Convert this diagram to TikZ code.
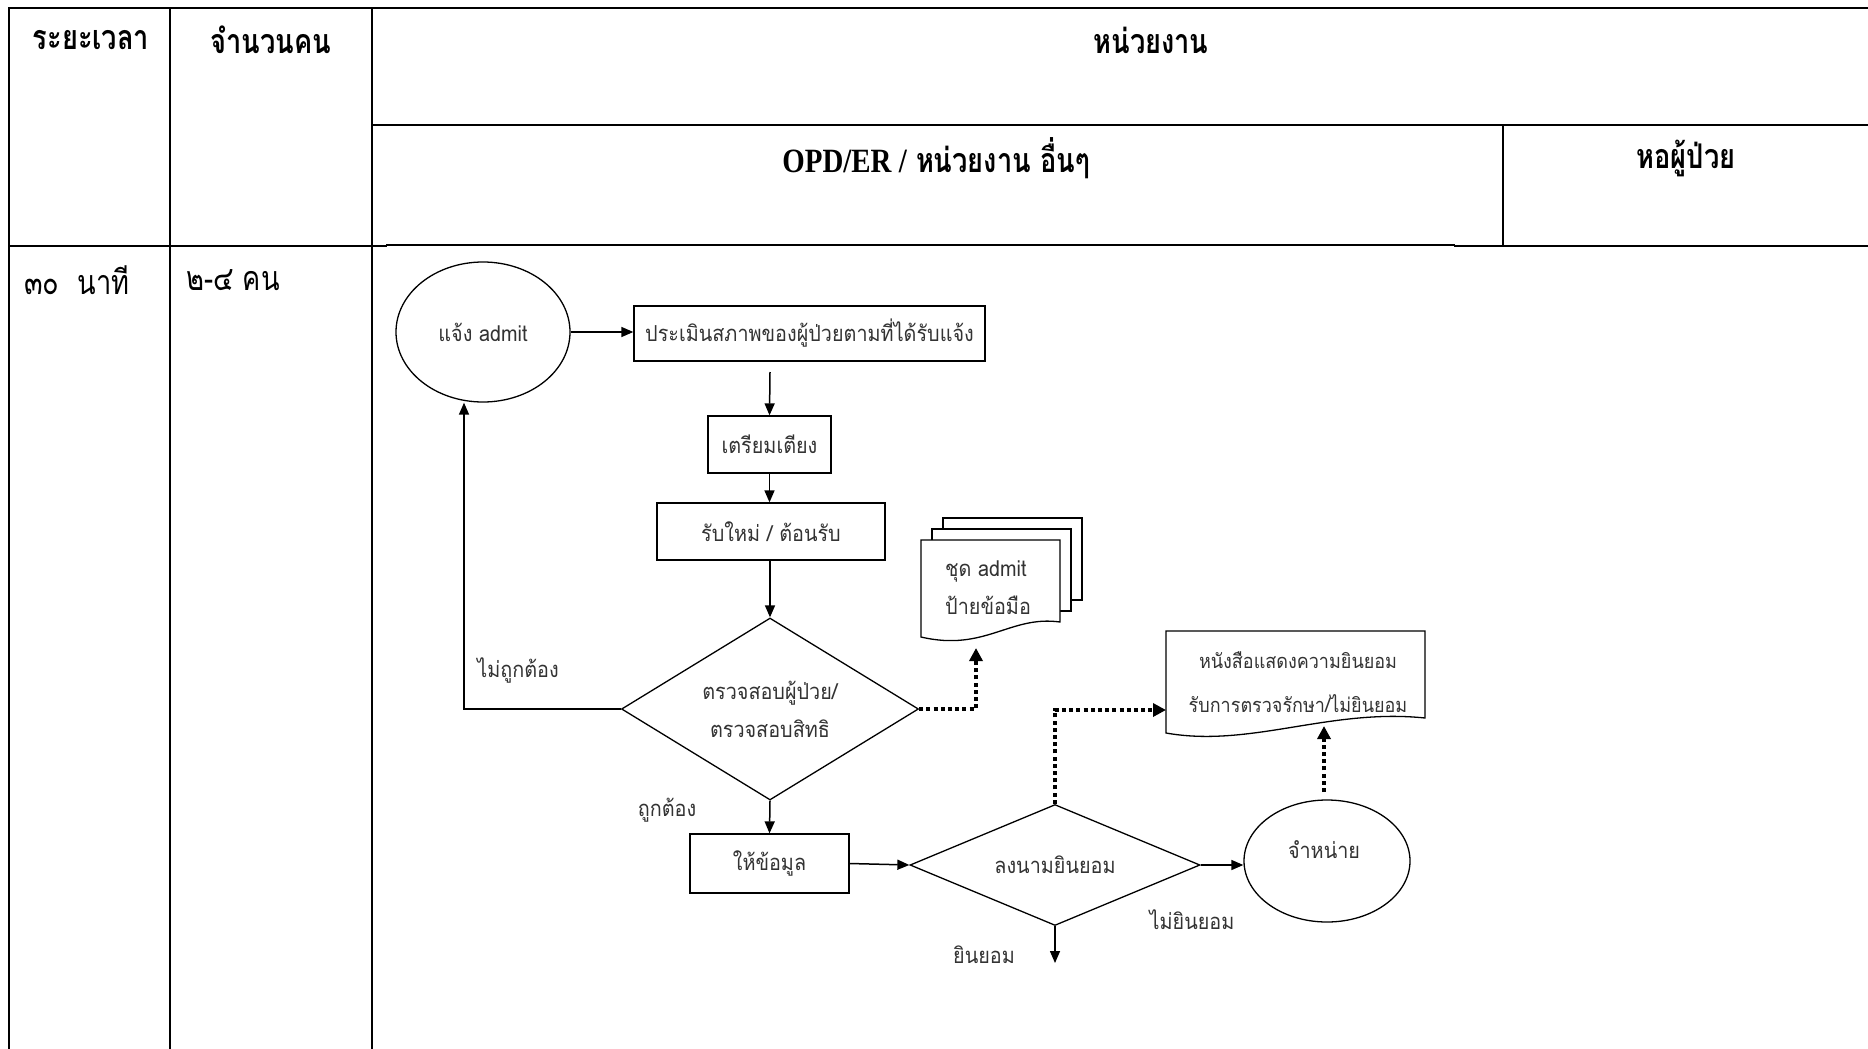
\documentclass[tikz,border=0pt]{standalone}
\usepackage{fontspec}
\usetikzlibrary{arrows.meta,shapes.geometric,calc}
\newfontfamily\fcfont[Script=Thai,FakeStretch=0.9]{Loma}
\newfontfamily\hdfont[Script=Thai,FakeStretch=0.8]{Loma}
\newfontfamily\hdlatin[FakeStretch=0.85]{Liberation Serif}

\tikzset{
  grid/.style={line width=2.8pt, line cap=rect},
  gridthin/.style={line width=1.8pt},
  hd/.style={font=\hdfont\bfseries\fontsize{34}{40}\selectfont, inner sep=0pt},
  bd/.style={font=\hdfont\fontsize{34}{40}\selectfont, inner sep=0pt},
  fc/.style={font=\fcfont\fontsize{22}{38}\selectfont, text=black!80, inner sep=0pt},
  proc/.style={draw, line width=1.3pt, rectangle, fc},
  decision/.style={draw, line width=1.3pt, diamond, fc, align=center, inner sep=0pt},
  term/.style={draw, line width=1.3pt, ellipse, fc, inner sep=0pt},
  page/.style={draw, line width=1.3pt, fill=white},
  arr/.style={line width=1.5pt, -{Triangle[length=12pt,width=10pt]}},
  dotarr/.style={line width=3.6pt, dash pattern=on 4pt off 3.2pt, -{Triangle[length=13pt,width=13pt]}}
}

\begin{document}
\begin{tikzpicture}[x=1pt, y=-1pt]
\useasboundingbox[fill=white] (0,0) rectangle (1868,1049);

% table rules
\draw[grid] (9,8) -- (1868,8);
\draw[grid] (9,8) -- (9,1049);
\draw[grid] (170,8) -- (170,1049);
\draw[grid] (372,8) -- (372,1049);
\draw[grid] (372,125) -- (1868,125);
\draw[gridthin] (1503,125) -- (1503,246);
\draw[grid] (9,246) -- (386,246);
\draw[gridthin] (386,245) -- (1455,245);
\draw[grid] (1455,246) -- (1868,246);

% headings
\node[hd] (hTime) at (91,40) {ระยะเวลา};
\node[hd] (hStaff) at (271,40) {จำนวนคน};
\node[hd] (hUnit) at (1151,40) {หน่วยงาน};
\node[hd] (hOpd) at (936,158) {{\hdlatin\bfseries OPD/ER /} หน่วยงาน อื่นๆ};
\node[hd] (hWard) at (1686,158) {หอผู้ป่วย};
\node[bd, anchor=west] (tTime) at (24,280) {๓๐\ \ นาที};
\node[bd, anchor=west] (tStaff) at (186,280) {๒-๔ คน};

% flow
\node[term, minimum width=174pt, minimum height=140pt] (adm) at (483,332) {แจ้ง admit};
\node[proc, minimum width=351pt, minimum height=55pt] (eval) at (809.5,333.5) {ประเมินสภาพของผู้ป่วยตามที่ได้รับแจ้ง};
\node[proc, minimum width=123pt, minimum height=57pt] (bed) at (769.5,444.5) {เตรียมเตียง};
\node[proc, minimum width=228pt, minimum height=57pt] (recv) at (771,531.5) {รับใหม่ / ต้อนรับ};
\node[decision, shape aspect=1.63, minimum width=297pt, minimum height=182pt] (chk) at (770,709) {ตรวจสอบผู้ป่วย/\\ตรวจสอบสิทธิ};
\node[proc, minimum width=159pt, minimum height=59pt] (info) at (769.5,863.5) {ให้ข้อมูล};
\node[decision, shape aspect=2.4, minimum width=290pt, minimum height=121pt] (sign) at (1055,865) {ลงนามยินยอม};
\node[term, minimum width=166pt, minimum height=122pt] (disc) at (1327,861) {};
\node[fc] (discT) at (1324,850) {จำหน่าย};

% stacked documents: admission kit
\draw[page] (943,518) rectangle (1082,600);
\draw[page] (932,529) rectangle (1071,611);
\draw[page] (921,540) -- (1060,540) -- (1060,622)
  .. controls (1010,615) and (985,652) .. (921,637) -- cycle;
\node[fc, align=left, anchor=north west] (kit) at (945,561) {ชุด admit\\ป้ายข้อมือ};

% consent form document
\draw[page] (1166,631) -- (1425,631) -- (1425,718)
  .. controls (1330,708) and (1250,748) .. (1166,733) -- cycle;
\node[fc, align=center, font=\fcfont\fontsize{20}{44}\selectfont] (consent) at (1298,682) {หนังสือแสดงความยินยอม\\รับการตรวจรักษา/ไม่ยินยอม};

\coordinate (evalOut) at (770,372);
\coordinate (kitIn) at (976,648);
\coordinate (consIn) at (1166,710);
\coordinate (consBot) at (1324,726);
\coordinate (discTop) at (1324,792);
\coordinate (signOut) at (1055,963);

% connectors
\draw[arr] (adm.east) -- (adm.east -| eval.west);
\draw[arr] (evalOut) -- (bed.north);
\draw[arr] (bed.south) -- (bed.south |- recv.north);
\draw[arr] (chk.north |- recv.south) -- (chk.north);
\draw[arr] (chk.west) -| ([xshift=-19pt]adm.south);
\draw[arr] (chk.south) -- (info.north);
\draw[arr] (info.east) -- (sign.west);
\draw[arr] (sign.south) -- (signOut);
\draw[arr] (sign.east) -- (sign.east -| disc.west);
\draw[dotarr] (chk.east) -| (kitIn);
\draw[dotarr] (sign.north) |- (consIn);
\draw[dotarr] (discTop) -- (consBot);

% branch labels
\node[fc] (lblNo) at (518,670) {ไม่ถูกต้อง};
\node[fc] (lblOk) at (667,810) {ถูกต้อง};
\node[fc] (lblYes) at (984,955) {ยินยอม};
\node[fc] (lblRefuse) at (1192,920) {ไม่ยินยอม};
\end{tikzpicture}
\end{document}
